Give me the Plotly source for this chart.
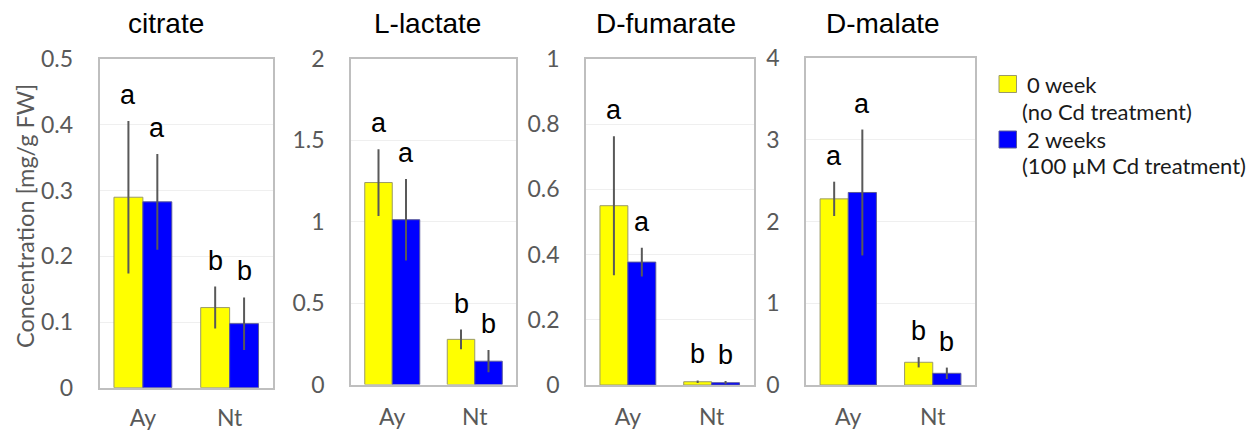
import plotly.graph_objects as go

W, H = 1254, 433

# ---- data ----
groups = ["Ay", "Nt"]
metabolites = ["citrate", "L-lactate", "D-fumarate", "D-malate"]
series_names = ["0 week<br>(no Cd treatment)", "2 weeks<br>(100 µM Cd treatment)"]

week0_mean = [[0.290, 0.122], [1.239, 0.277], [0.550, 0.010], [2.277, 0.278]]
week0_err = [[0.116, 0.032], [0.205, 0.060], [0.213, 0.004], [0.210, 0.063]]
week2_mean = [[0.283, 0.0975], [1.011, 0.143], [0.377, 0.007], [2.355, 0.143]]
week2_err = [[0.073, 0.040], [0.250, 0.068], [0.044, 0.005], [0.770, 0.070]]

week0_letters = [["a", "b"], ["a", "b"], ["a", "b"], ["a", "b"]]
week2_letters = [["a", "b"], ["a", "b"], ["a", "b"], ["a", "b"]]

y_max = [0.5, 2, 1, 4]
y_dtick = [0.1, 0.5, 0.2, 1]

# ---- layout geometry (pixels) ----
panels_px = [  # x0, x1, ytop, ybottom
    (99.5, 273.0, 59.3, 387.7),
    (351.0, 516.0, 58.5, 384.5),
    (586.0, 753.5, 59.0, 385.0),
    (806.0, 975.0, 58.0, 385.0),
]
title_x_px = [166, 427, 666, 883]

YELLOW = "#FFFF00"
BLUE = "#0000FF"
GRAY_TXT = "#595959"
TICK_FONT = dict(family="Lato", size=23, color=GRAY_TXT)

fig = go.Figure()
annotations = []

for i, name in enumerate(metabolites):
    sfx = "" if i == 0 else str(i + 1)
    xa, ya = "x" + sfx, "y" + sfx
    fig.add_trace(go.Bar(
        x=groups, y=week0_mean[i], name=series_names[0],
        marker=dict(color=YELLOW, line=dict(color="#9a9a6a", width=1)),
        error_y=dict(type="data", array=week0_err[i], color="#595959", thickness=2, width=0),
        xaxis=xa, yaxis=ya, showlegend=False,
    ))
    fig.add_trace(go.Bar(
        x=groups, y=week2_mean[i], name=series_names[1],
        marker=dict(color=BLUE, line=dict(color="#5a5a9a", width=1)),
        error_y=dict(type="data", array=week2_err[i], color="#595959", thickness=2, width=0),
        xaxis=xa, yaxis=ya, showlegend=False,
    ))
    x0, x1, yt, yb = panels_px[i]
    axis_common = dict(showline=True, linecolor="#bfbfbf", linewidth=1.5, mirror=True,
                       ticks="", tickfont=TICK_FONT, automargin=False, fixedrange=True)
    fig.layout["xaxis" + sfx] = dict(
        domain=[x0 / W, x1 / W], anchor=ya, showgrid=False,
        ticklabelstandoff=(9 if i == 0 else 11), **axis_common)
    fig.layout["yaxis" + sfx] = dict(
        domain=[1 - yb / H, 1 - yt / H], anchor=xa, range=[0, y_max[i]], dtick=y_dtick[i],
        showgrid=True, gridcolor="#efefef", gridwidth=1, zeroline=False,
        ticklabelstandoff=20, **axis_common)

    # title
    annotations.append(dict(
        text=name, xref="paper", yref="paper", x=title_x_px[i] / W, y=1 - 24 / H,
        xanchor="center", yanchor="middle", showarrow=False,
        font=dict(family="Liberation Sans, Arial", size=28, color="#000000")))

    # significance letters
    for j, g in enumerate(groups):
        for k, (means, errs, letters) in enumerate(
                [(week0_mean, week0_err, week0_letters), (week2_mean, week2_err, week2_letters)]):
            annotations.append(dict(
                text=letters[i][j], xref=xa, yref=ya,
                x=j + (-1 / 6 if k == 0 else 1 / 6),
                y=means[i][j] + errs[i][j],
                xanchor="center", yanchor="bottom", yshift=9, showarrow=False,
                font=dict(family="Liberation Sans, Arial", size=27, color="#000000")))

# y-axis title
annotations.append(dict(
    text="Concentration [mg/g FW]", xref="paper", yref="paper", x=25 / W, y=1 - 216 / H,
    xanchor="center", yanchor="middle", textangle=-90, showarrow=False,
    font=dict(family="Lato", size=23.5, color=GRAY_TXT)))

# legend (custom)
legend_rows = [
    (YELLOW, "#9a9a6a", 84, ["0 week", "(no Cd treatment)"], [111.5]),
    (BLUE, "#5a5a9a", 139.5, ["2 weeks", "(100 µM Cd treatment)"], [165.5]),
]
shapes = []
for color, edge, cy, lines, cy2 in legend_rows:
    shapes.append(dict(type="rect", xref="paper", yref="paper",
                       x0=999 / W, x1=1016.5 / W, y0=1 - (cy + 8.5) / H, y1=1 - (cy - 8.5) / H,
                       fillcolor=color, line=dict(color=edge, width=1)))
    annotations.append(dict(text=lines[0], xref="paper", yref="paper", x=1025 / W, y=1 - cy / H,
                            xanchor="left", yanchor="middle", showarrow=False,
                            font=dict(family="Lato", size=22, color="#1a1a1a")))
    annotations.append(dict(text=lines[1], xref="paper", yref="paper", x=1020 / W, y=1 - cy2[0] / H,
                            xanchor="left", yanchor="middle", showarrow=False,
                            font=dict(family="Lato", size=22, color="#1a1a1a")))

fig.update_layout(
    width=W, height=H, margin=dict(l=0, r=0, t=0, b=0, autoexpand=False),
    paper_bgcolor="white", plot_bgcolor="white",
    barmode="group", bargap=1 / 3, bargroupgap=0,
    annotations=annotations, shapes=shapes, showlegend=False,
)

fig.write_html("out.html", config={"displayModeBar": False},
               post_script="document.body.style.margin='0';document.body.style.overflow='hidden';")
